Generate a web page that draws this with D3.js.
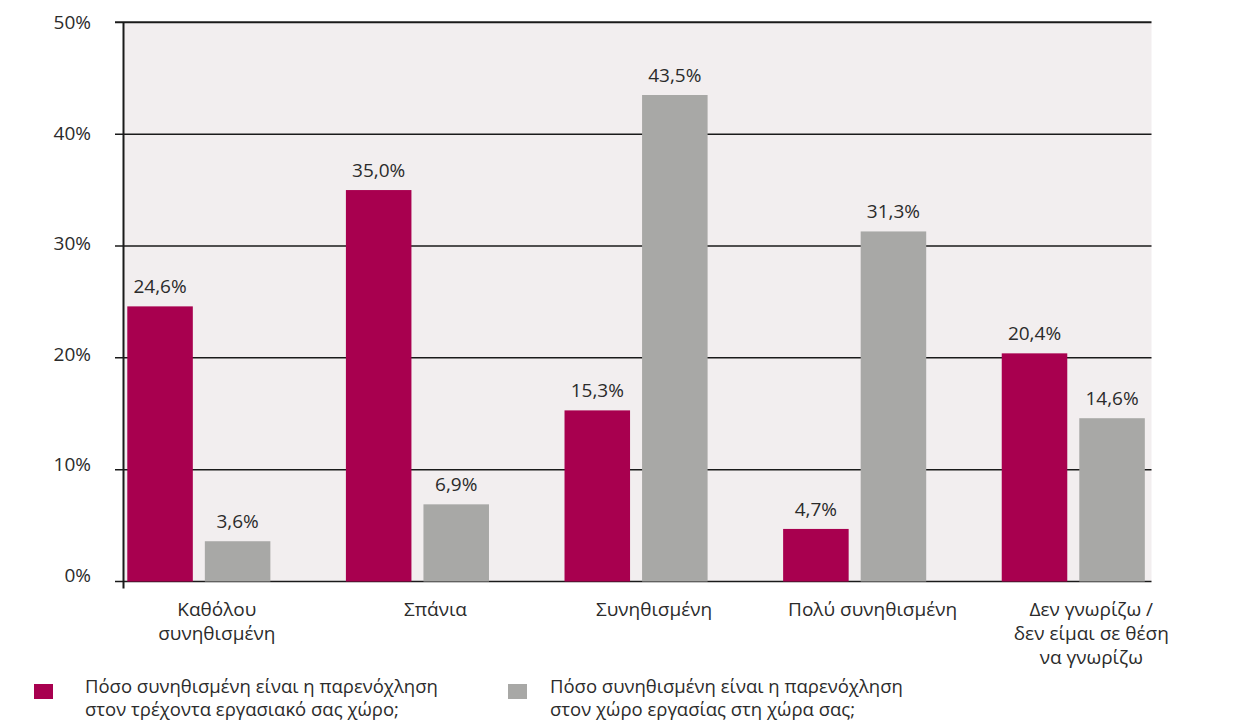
<!DOCTYPE html>
<html><head><meta charset="utf-8">
<script src="https://cdn.jsdelivr.net/npm/d3@7"></script>
<style>
body{margin:0;background:#fff}
text{font-family:"Open Sans",sans-serif;fill:#2b2b2b}
</style></head>
<body><svg id="c" width="1247" height="720"></svg>
<script>
const categories = ["Καθόλου\nσυνηθισμένη", "Σπάνια", "Συνηθισμένη", "Πολύ συνηθισμένη", "Δεν γνωρίζω /\nδεν είμαι σε θέση\nνα γνωρίζω"];
const seriesNames = ["Πόσο συνηθισμένη είναι η παρενόχληση\nστον τρέχοντα εργασιακό σας χώρο;",
                     "Πόσο συνηθισμένη είναι η παρενόχληση\nστον χώρο εργασίας στη χώρα σας;"];
const currentWorkplace = [24.6, 35.0, 15.3, 4.7, 20.4];
const countryWorkplace = [3.6, 6.9, 43.5, 31.3, 14.6];
const yTicks = [0, 10, 20, 30, 40, 50];
const colors = ["#a8004f", "#a8a8a6"];

const series = [currentWorkplace, countryWorkplace];
const svg = d3.select("#c");
const L = 124, R = 1151.5, T = 22.3, B = 581.5;

const y = d3.scaleLinear().domain([0, 50]).range([B, T]);
const x = d3.scaleBand().domain(categories).range([L, R])
  .paddingInner(0.3455).paddingOuter(0.0228).align(0.33);
const xi = d3.scaleBand().domain([0, 1]).range([0, x.bandwidth()]).paddingInner(0.155);

// background
svg.append("rect").attr("x", L).attr("y", T).attr("width", R - L).attr("height", B - T).attr("fill", "#f2eeef");

// gridlines (with left ticks)
svg.selectAll(".grid").data(yTicks).enter().append("line")
  .attr("x1", L - 9).attr("x2", R).attr("y1", d => y(d)).attr("y2", d => y(d))
  .attr("stroke", "#1a1a1a").attr("stroke-width", d => d === 50 ? 2 : 1.5);
svg.selectAll(".ylab").data(yTicks).enter().append("text")
  .attr("x", 91).attr("y", d => y(d)).attr("dy", "0.35em")
  .attr("transform", d => `translate(0,${-6 + d * 0.12})`)
  .attr("text-anchor", "end").attr("font-size", 19).text(d => d + "%");

// bars
const groups = svg.selectAll(".grp").data(categories).enter().append("g")
  .attr("transform", d => `translate(${x(d)},0)`);
groups.each(function (c, ci) {
  const g = d3.select(this);
  series.forEach((s, si) => {
    const v = s[ci];
    g.append("rect").attr("x", xi(si)).attr("width", xi.bandwidth())
      .attr("y", y(v)).attr("height", y(0) - y(v)).attr("fill", colors[si]);
    g.append("text").attr("x", xi(si) + xi.bandwidth() / 2).attr("y", y(v) - 13)
      .attr("text-anchor", "middle").attr("font-size", 19)
      .text(v.toFixed(1).replace(".", ",") + "%");
  });
});

// y axis line
svg.append("line").attr("x1", L - 0.5).attr("x2", L - 0.5).attr("y1", T).attr("y2", B + 7)
  .attr("stroke", "#1a1a1a").attr("stroke-width", 2);

// category labels
categories.forEach(c => {
  const cx = x(c) + x.bandwidth() / 2 + 18;
  const t = svg.append("text").attr("text-anchor", "middle").attr("font-size", 19)
    .attr("x", cx).attr("y", 616);
  c.split("\n").forEach((ln, i) => t.append("tspan").attr("x", cx)
    .attr("dy", i ? 24 : 0).text(ln));
});

// legend
const legX = [34, 508], legTX = [85, 550];
seriesNames.forEach((n, i) => {
  svg.append("rect").attr("x", legX[i]).attr("y", 684).attr("width", 19).attr("height", 15).attr("fill", colors[i]);
  n.split("\n").forEach((ln, j) => svg.append("text").attr("font-size", 18.5)
    .attr("x", legTX[i]).attr("y", 693 + j * 23).text(ln));
});
</script></body></html>
